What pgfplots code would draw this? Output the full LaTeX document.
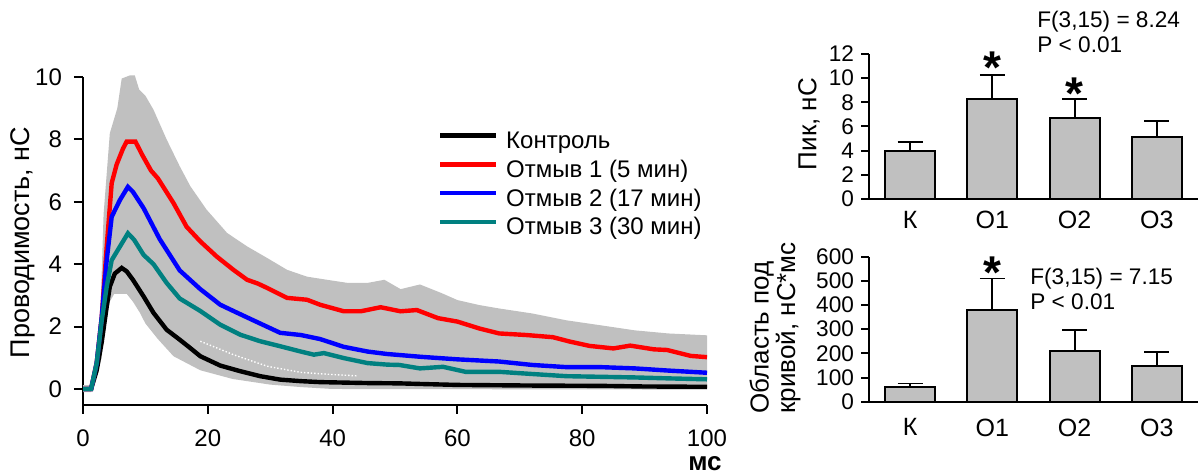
\documentclass[border=0pt]{standalone}
\usepackage{fontspec}
\setmainfont{Liberation Sans}
\usepackage{pgfplots}
\pgfplotsset{compat=1.18}
\definecolor{band}{RGB}{192,192,192}
\definecolor{barg}{RGB}{192,192,192}
\definecolor{tealc}{RGB}{0,128,128}
\begin{document}
\begin{tikzpicture}[x=1pt,y=1pt]
\useasboundingbox (0,0) rectangle (602,237);
\begin{axis}[
 at={(41.5pt,34.5pt)}, anchor=south west,
 scale only axis, width=312pt, height=164pt,
 xmin=0, xmax=100, ymin=-0.513, ymax=10,
 axis lines=left, axis line style={-, line width=1pt},
 tick align=outside, major tick length=4.5pt,
 tick style={line width=1pt, black},
 xtick={0,20,...,100}, ytick={0,2,...,10},
 tick label style={font=\fontsize{12}{14}\selectfont},
 yticklabel style={xshift=-2.5pt},
 xticklabel style={yshift=-4.5pt},
 /pgf/number format/assume math mode=true,
 clip=false,
 legend style={at={(0.568,0.838)}, anchor=north west, draw=none, fill=none, inner sep=0pt,
   row sep=2.4pt, column sep=4pt, font=\fontsize{12}{14}\selectfont,
   nodes={inner sep=0pt, text height=9pt, text depth=3pt}},
 legend cell align=left,
 legend image code/.code={\draw[#1] (0pt,3.5pt) -- (28pt,3.5pt);},
]
% grey SEM band (union)
\addplot[fill=band, draw=none, forget plot] coordinates {
(0,0.12) (1.3,0.12) (2.0,0.9) (2.8,2.5) (3.3,5.6) (4.3,8.2) (5.5,9.0) (6.2,9.95) (7.5,10.05) (8.3,10.05)
(9.0,9.6) (10,9.4) (11.3,8.95) (13.4,8.0) (15.5,7.14) (17.2,6.5) (19.8,5.75) (23.1,5.0) (26.3,4.57)
(29.5,4.2) (32.7,3.82) (35.9,3.6) (39.1,3.5) (42.4,3.4) (45.6,3.4) (48.3,3.5) (50.9,3.2) (54,3.35)
(57.5,3.07) (60,2.85) (63.5,2.69) (66.7,2.58) (72,2.42) (77.5,2.2) (83,2.04) (88.4,1.88) (93.8,1.78) (100,1.72)
(100,-0.02) (40,0.0) (35,0.06) (30,0.14) (24,0.32) (18.8,0.6) (14.5,1.05) (12,1.6) (10,2.1) (9.1,2.45)
(8,2.8) (7,3.05) (5,3.05) (4.3,2.8) (3.3,1.7) (3,1.0) (2,0.3) (1.3,-0.1) (0,-0.1)
};
\addplot[white, line width=0.7pt, densely dotted, forget plot] coordinates {
(18.8,1.53) (24.1,1.1) (29.5,0.73) (35,0.53) (40.2,0.46) (44,0.42)};
\addplot[black, line width=2.2pt] coordinates {
(0,0) (1.3,0) (2.2,0.6) (3.0,1.5) (3.8,2.64) (4.3,3.28) (5.1,3.7) (6.2,3.88) (7.0,3.77) (8,3.5)
(9.7,2.97) (11.3,2.44) (13.4,1.9) (15.5,1.58) (17.2,1.31) (18.8,1.05) (22,0.75) (25.2,0.57) (28.4,0.41)
(31.6,0.30) (35,0.25) (38,0.22) (45.6,0.19) (50.7,0.18) (54.2,0.16) (60,0.13) (72,0.11) (83,0.1) (90,0.08) (100,0.07)};
\addlegendentry{Контроль}
\addplot[red, line width=2.2pt] coordinates {
(0,0) (1.3,0) (2.2,0.85) (3.0,2.3) (3.8,4.56) (4.6,6.6) (5.4,7.2) (6.4,7.7) (7.0,7.93) (8.4,7.93)
(9.5,7.5) (10.9,7.0) (12,6.75) (14.5,5.96) (16.6,5.2) (18.8,4.73) (21.4,4.25) (24.1,3.82) (26.3,3.5)
(28,3.38) (29.5,3.24) (32.7,2.92) (35.9,2.86) (38,2.7) (41.8,2.49) (44.5,2.49) (47.7,2.62) (50.9,2.49)
(53.5,2.53) (56.9,2.27) (60,2.16) (63.5,1.94) (66.7,1.78) (71,1.73) (75.3,1.66) (78,1.52) (81.2,1.38)
(85,1.30) (87.7,1.39) (91.5,1.27) (93.6,1.25) (97.4,1.06) (100,1.02)};
\addlegendentry{Отмыв 1 (5 мин)}
\addplot[blue, line width=2.2pt] coordinates {
(0,0) (1.3,0) (2.2,0.83) (3.0,2.3) (3.8,4.13) (4.6,5.52) (5.9,6.05) (7.2,6.48) (8,6.32) (9.7,5.8)
(12.3,4.8) (15.5,3.8) (18.8,3.2) (22,2.7) (24.1,2.5) (27.3,2.2) (31.6,1.8) (34.9,1.73) (38,1.6)
(41.8,1.35) (45.6,1.2) (48.8,1.12) (54.2,1.03) (60,0.95) (66.7,0.88) (72,0.77) (77.5,0.70) (83,0.70)
(88.4,0.66) (93.8,0.59) (100,0.52)};
\addlegendentry{Отмыв 2 (17 мин)}
\addplot[tealc, line width=2.2pt] coordinates {
(0,0) (1.3,0) (2.2,0.83) (3.0,2.2) (3.8,3.28) (4.6,4.13) (5.9,4.56) (7.2,4.99) (8.2,4.78) (9.7,4.3)
(11.3,4.0) (13.4,3.4) (15.5,2.9) (18.8,2.5) (22,2.06) (25.2,1.74) (28.4,1.53) (31.6,1.37) (34.9,1.2)
(37,1.1) (38.6,1.15) (41.8,0.99) (45.6,0.83) (48.8,0.78) (50.7,0.77) (54,0.66) (57.7,0.71) (61.3,0.55)
(66.7,0.55) (72,0.48) (77.5,0.41) (83,0.39) (88.4,0.37) (93.8,0.34) (100,0.31)};
\addlegendentry{Отмыв 3 (30 мин)}
\end{axis}

% top bar chart
\begin{axis}[
 at={(434.5pt,137.5pt)}, anchor=south west,
 scale only axis, width=164.5pt, height=72.5pt,
 xmin=-0.5, xmax=3.5, ymin=0, ymax=12,
 axis lines=left, axis line style={-, line width=1pt},
 tick align=outside, major tick length=4pt,
 tick style={line width=1pt, black},
 major x tick style={draw=none},
 xtick={0,1,2,3}, xticklabels={К,О1,О2,О3},
 ytick={0,2,...,12},
 yticklabel style={font=\fontsize{11.3}{13}\selectfont},
 xticklabel style={font=\fontsize{12.5}{14}\selectfont, yshift=1.5pt},
 /pgf/number format/assume math mode=true,
 clip=false,
]
\addplot[ybar, bar width=25pt, fill=barg, draw=black, line width=0.9pt,
 error bars/.cd, y dir=plus, y explicit,
 error bar style={line width=0.9pt, black},
 error mark options={rotate=90, mark size=6.25pt, line width=0.9pt, black}]
 coordinates {(0,4.0) +- (0,0.74) (1,8.28) +- (0,1.98) (2,6.73) +- (0,1.52) (3,5.16) +- (0,1.30)};
\node[font=\fontsize{23}{23}\selectfont\bfseries, anchor=base, yshift=-13pt] at (axis cs:1,11.75) {*};
\node[font=\fontsize{23}{23}\selectfont\bfseries, anchor=base, yshift=-13pt] at (axis cs:2,9.52) {*};
\end{axis}

% bottom bar chart
\begin{axis}[
 at={(434.5pt,36.15pt)}, anchor=south west,
 scale only axis, width=164.5pt, height=72.5pt,
 xmin=-0.5, xmax=3.5, ymin=0, ymax=600,
 axis lines=left, axis line style={-, line width=1pt},
 tick align=outside, major tick length=4pt,
 tick style={line width=1pt, black},
 major x tick style={draw=none},
 xtick={0,1,2,3}, xticklabels={К,О1,О2,О3},
 ytick={0,100,...,600},
 yticklabel style={font=\fontsize{11.3}{13}\selectfont},
 xticklabel style={font=\fontsize{12.5}{14}\selectfont, yshift=-1pt},
 /pgf/number format/assume math mode=true,
 clip=false,
]
\addplot[ybar, bar width=25pt, fill=barg, draw=black, line width=0.9pt,
 error bars/.cd, y dir=plus, y explicit,
 error bar style={line width=0.9pt, black},
 error mark options={rotate=90, mark size=6.25pt, line width=0.9pt, black}]
 coordinates {(0,59.6) +- (0,16) (1,379) +- (0,131) (2,210) +- (0,87) (3,148) +- (0,56)};
\node[font=\fontsize{23}{23}\selectfont\bfseries, anchor=base, yshift=-13pt] at (axis cs:1,574) {*};
\end{axis}

% labels
\node[rotate=90, font=\fontsize{13.5}{16}\selectfont, inner sep=0pt] at (11.5,115.75) {Проводимость, нС};
\node[font=\fontsize{13}{15}\selectfont\bfseries, inner sep=0pt] at (352.5,5.25) {мс};
\node[rotate=90, font=\fontsize{13}{15}\selectfont, inner sep=0pt] at (404.5,175) {Пик, нС};
\node[rotate=90, font=\fontsize{13}{12}\selectfont, inner sep=0pt, align=left, anchor=west] at (387.5,30) {Область под\\кривой, нС*мс};
\node[font=\fontsize{11.3}{13}\selectfont, anchor=base west, inner sep=0pt] at (518.5,223) {F(3,15) = 8.24};
\node[font=\fontsize{11.3}{13}\selectfont, anchor=base west, inner sep=0pt] at (518.5,210.5) {P < 0.01};
\node[font=\fontsize{11.3}{13}\selectfont, anchor=base west, inner sep=0pt] at (515,94.5) {F(3,15) = 7.15};
\node[font=\fontsize{11.3}{13}\selectfont, anchor=base west, inner sep=0pt] at (515,82) {P < 0.01};
\end{tikzpicture}
\end{document}
